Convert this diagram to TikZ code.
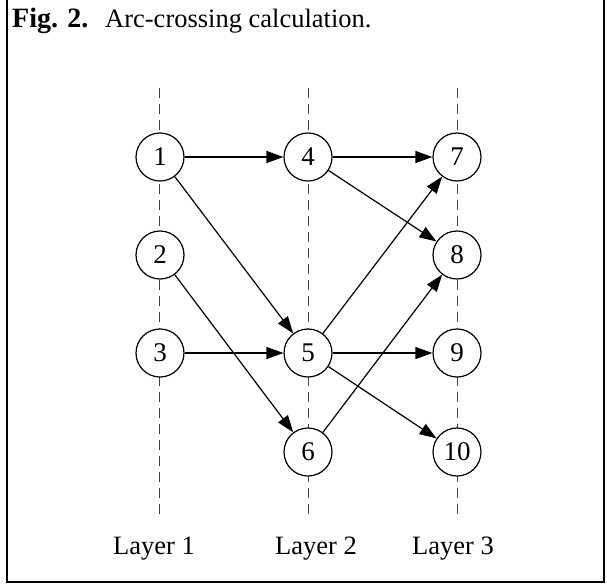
\documentclass[tikz,border=0pt]{standalone}
\usepackage{fontspec}
\setmainfont{Liberation Serif}
\usetikzlibrary{arrows.meta}
\begin{document}
\begin{tikzpicture}[x=1pt,y=-1pt,
  vnode/.style={circle,draw,fill=white,line width=1.2pt,minimum size=48pt,inner sep=0pt,font=\fontsize{27}{30}\selectfont},
  arc/.style={line width=1.2pt,-{Triangle[length=17pt,width=12pt]}},
  layerline/.style={dash pattern=on 10pt off 6pt,line width=0.9pt,draw=black!75},
  lbl/.style={font=\fontsize{26.5}{30}\selectfont,anchor=base west,inner sep=0pt}]
\useasboundingbox (0,0) rectangle (607,584);
% frame
\draw[line width=2.5pt] (7,-5) -- (7,582) -- (604,582) -- (604,-5);
% title
\node[lbl,font=\fontsize{28}{30}\selectfont] (figno) at (12,27) {\textbf{Fig. 2.}};
\node[lbl] (title) at (105,27) {Arc-crossing calculation.};
% layer lines
\coordinate (l1t) at (159,88); \coordinate (l1b) at (159,518);
\coordinate (l2t) at (308,88); \coordinate (l2b) at (308,518);
\coordinate (l3t) at (457,88); \coordinate (l3b) at (457,518);
\draw[layerline] (l1t) -- (l1b);
\draw[layerline] (l2t) -- (l2b);
\draw[layerline] (l3t) -- (l3b);
% nodes
\node[vnode] (n1) at (160,157) {1};
\node[vnode] (n2) at (160,255) {2};
\node[vnode] (n3) at (160,353) {3};
\node[vnode] (n4) at (308,157) {4};
\node[vnode] (n5) at (308,353) {5};
\node[vnode] (n6) at (308,452) {6};
\node[vnode] (n7) at (457,157) {7};
\node[vnode] (n8) at (457,255) {8};
\node[vnode] (n9) at (457,353) {9};
\node[vnode] (n10) at (457,452) {10};
% arcs
\draw[arc] (n1) -- (n4);
\draw[arc] (n1) -- (n5);
\draw[arc] (n2) -- (n6);
\draw[arc] (n3) -- (n5);
\draw[arc] (n4) -- (n7);
\draw[arc] (n4) -- (n8);
\draw[arc] (n5) -- (n7);
\draw[arc] (n5) -- (n9);
\draw[arc] (n5) -- (n10);
\draw[arc] (n6) -- (n8);
% layer labels
\node[lbl] (lay1) at (113,554) {Layer 1};
\node[lbl] (lay2) at (275,554) {Layer 2};
\node[lbl] (lay3) at (412,554) {Layer 3};
\end{tikzpicture}
\end{document}
